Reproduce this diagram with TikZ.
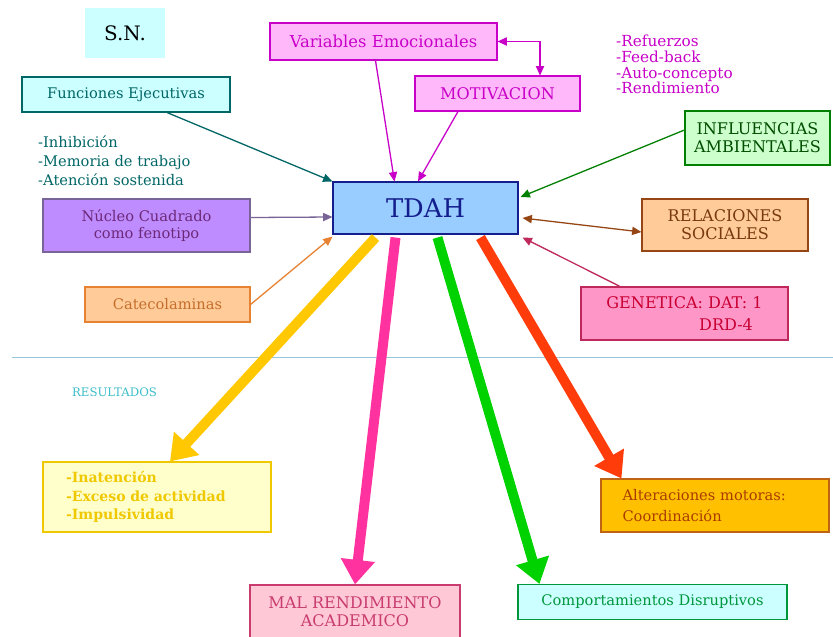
\documentclass[tikz,border=0pt]{standalone}
\usepackage{fontspec}
\setmainfont{DejaVu Serif}
\usepackage{tikz}
\usetikzlibrary{arrows.meta, positioning, calc}
\usepackage{xcolor}
\definecolor{sncyan}{RGB}{204, 255, 255}
\definecolor{tealdark}{RGB}{0, 102, 102}
\definecolor{emofill}{RGB}{255, 185, 250}
\definecolor{emodraw}{RGB}{200, 0, 200}
\definecolor{tdahfill}{RGB}{153, 204, 255}
\definecolor{tdahdraw}{RGB}{20, 30, 140}
\definecolor{nucfill}{RGB}{190, 140, 255}
\definecolor{nucdraw}{RGB}{120, 100, 150}
\definecolor{nuctext}{RGB}{110, 40, 120}
\definecolor{ambfill}{RGB}{204, 255, 204}
\definecolor{ambdraw}{RGB}{0, 128, 0}
\definecolor{relfill}{RGB}{255, 204, 153}
\definecolor{reldraw}{RGB}{150, 70, 20}
\definecolor{catdraw}{RGB}{230, 130, 50}
\definecolor{genfill}{RGB}{255, 150, 200}
\definecolor{gendraw}{RGB}{190, 40, 90}
\definecolor{gentext}{RGB}{200, 0, 50}
\definecolor{inafill}{RGB}{255, 255, 204}
\definecolor{inagold}{RGB}{240, 200, 0}
\definecolor{malfill}{RGB}{255, 200, 215}
\definecolor{maldraw}{RGB}{200, 60, 110}
\definecolor{comdraw}{RGB}{0, 150, 60}
\definecolor{altfill}{RGB}{255, 192, 0}
\definecolor{altdraw}{RGB}{190, 100, 20}
\definecolor{alttext}{RGB}{170, 60, 0}
\definecolor{sepline}{RGB}{150, 200, 220}
\definecolor{restitle}{RGB}{60, 190, 200}
\definecolor{resyellow}{RGB}{255, 200, 0}
\definecolor{respink}{RGB}{255, 50, 160}
\definecolor{resgreen}{RGB}{0, 210, 0}
\definecolor{resred}{RGB}{255, 60, 10}
\tikzset{
  caja/.style     = {rectangle, draw, line width=0.9pt, align=center, inner sep=2pt,
                     font=\fontsize{12.5}{15}\selectfont},
  cajamay/.style  = {caja, font=\fontsize{13.7}{15.5}\selectfont},
  flecha/.style   = {-{Triangle[length=8pt, width=7pt]}, line width=1.1pt},
  dflecha/.style  = {{Triangle[length=8pt, width=7pt]}-{Triangle[length=8pt, width=7pt]}, line width=1.1pt},
  resflow/.style  = {-{Triangle[length=21pt, width=28pt]}, line width=8.5pt},
  lista/.style    = {align=left, anchor=north west, inner sep=0pt,
                     font=\fontsize{12.5}{16}\selectfont},
}

\begin{document}
\begin{tikzpicture}[x=0.03cm, y=-0.03cm]
  % marco de la figura en pixeles
  \useasboundingbox (0,0) rectangle (833,636);
  \fill[white] (0,0) rectangle (833,636);

  % causas
  \node[fill=sncyan, minimum width=80*0.03cm, minimum height=50*0.03cm,
        font=\fontsize{17}{19}\selectfont] (sn) at (125,33) {S.N.};
  \node[caja, fill=emofill, draw=emodraw, text=emodraw, minimum width=227*0.03cm, minimum height=37*0.03cm,
        font=\fontsize{14}{16}\selectfont] (varemo) at (383.5,41.5) {Variables Emocionales};
  \node[cajamay, fill=emofill, draw=emodraw, text=emodraw, minimum width=165*0.03cm, minimum height=35*0.03cm]
        (motiv) at (497.5,93.5) {MOTIVACION};
  \node[caja, fill=sncyan, draw=tealdark, text=tealdark, minimum width=208*0.03cm, minimum height=35*0.03cm]
        (funcej) at (126,94.5) {Funciones Ejecutivas};
  \node[lista, text=tealdark] (inhib) at (38,136) {-Inhibición\\-Memoria de trabajo\\-Atención sostenida};
  \node[lista, text=emodraw, font=\fontsize{13}{13.4}\selectfont] (refuer) at (616,35)
        {-Refuerzos\\-Feed-back\\-Auto-concepto\\-Rendimiento};
  \node[caja, fill=tdahfill, draw=tdahdraw, text=tdahdraw, minimum width=185*0.03cm, minimum height=52*0.03cm,
        font=\fontsize{22}{24}\selectfont] (tdah) at (425.5,208) {TDAH};
  \node[caja, fill=nucfill, draw=nucdraw, text=nuctext, minimum width=207*0.03cm, minimum height=53*0.03cm]
        (nucleo) at (146.5,225.5) {Núcleo Cuadrado\\como fenotipo};
  \node[cajamay, fill=ambfill, draw=ambdraw, text=ambdraw!60!black, minimum width=145*0.03cm, minimum height=54*0.03cm]
        (influ) at (757.5,138) {INFLUENCIAS\\AMBIENTALES};
  \node[cajamay, fill=relfill, draw=reldraw, text=reldraw!80!black, minimum width=166*0.03cm, minimum height=52*0.03cm]
        (relac) at (725,225) {RELACIONES\\SOCIALES};
  \node[caja, fill=relfill, draw=catdraw, text=catdraw!85!black, minimum width=165*0.03cm, minimum height=35*0.03cm]
        (catec) at (167.5,304.5) {Catecolaminas};
  \node[cajamay, fill=genfill, draw=gendraw, text=gentext, minimum width=207*0.03cm, minimum height=53*0.03cm,
        align=right, font=\fontsize{13.7}{18}\selectfont] (genet) at (684.5,313.5) {GENETICA: DAT: 1\\DRD-4\hspace*{0.6em}};

  % separacion
  \draw[sepline, line width=0.8pt] (12,357) -- (833,357);
  \node[text=restitle, font=\fontsize{10}{11}\selectfont, anchor=west] (result) at (68,392) {RESULTADOS};

  % resultados
  \node[caja, fill=inafill, draw=inagold, text=inagold, minimum width=228*0.03cm, minimum height=70*0.03cm,
        align=left, text width=182*0.03cm, font=\bfseries\fontsize{12}{16}\selectfont] (inaten) at (157,497)
        {-Inatención\\-Exceso de actividad\\-Impulsividad};
  \node[cajamay, fill=malfill, draw=maldraw, text=maldraw, minimum width=210*0.03cm, minimum height=54*0.03cm]
        (malrend) at (355,612) {MAL RENDIMIENTO\\ACADEMICO};
  \node[caja, fill=sncyan, draw=comdraw, text=comdraw, minimum width=269*0.03cm, minimum height=35*0.03cm]
        (comport) at (652.5,602) {Comportamientos Disruptivos};
  \node[caja, fill=altfill, draw=altdraw, text=alttext, minimum width=228*0.03cm, minimum height=53*0.03cm,
        align=left, text width=185*0.03cm, font=\fontsize{12.5}{18}\selectfont] (alter) at (715,505.5)
        {Alteraciones motoras:\\Coordinación};

  % flechas finas hacia TDAH
  \draw[flecha, tealdark] ($(funcej.south)+(41,0)$) -- (tdah.north west);
  \draw[flecha, emodraw] ($(varemo.south)+(-8,0)$) -- ($(tdah.north west)+(62,0)$);
  \draw[flecha, emodraw] ($(motiv.south)+(-39.5,0)$) -- ($(tdah.north)+(-7.5,0)$);
  \draw[dflecha, emodraw] (varemo.east) -| ($(motiv.north)+(42.5,0)$);
  \draw[flecha, ambdraw] ($(influ.west)+(0,-8)$) -- ($(tdah.east)+(2,-11)$);
  \draw[flecha, nucdraw] ($(nucleo.east)+(0,-8)$) -- ($(tdah.west)+(0,9)$);
  \draw[flecha, catdraw] (catec.east) -- ($(tdah.south west)+(0,2)$);
  \draw[dflecha, reldraw] ($(tdah.east)+(4,10)$) -- ($(relac.west)+(0,7)$);
  \draw[flecha, gendraw] ($(genet.north)+(-64.5,0)$) -- ($(tdah.south east)+(4,3)$);

  % flechas gruesas hacia resultados
  \draw[resflow, resyellow] ($(tdah.south)+(-50,3)$) -- ($(inaten.north)+(13,0)$);
  \draw[resflow, respink] ($(tdah.south)+(-30,3)$) -- (malrend.north);
  \draw[resflow, resgreen] ($(tdah.south)+(12,3)$) -- ($(comport.north west)+(22,0)$);
  \draw[resflow, resred] ($(tdah.south)+(55,3)$) -- ($(alter.north west)+(21,0)$);
\end{tikzpicture}
\end{document}
